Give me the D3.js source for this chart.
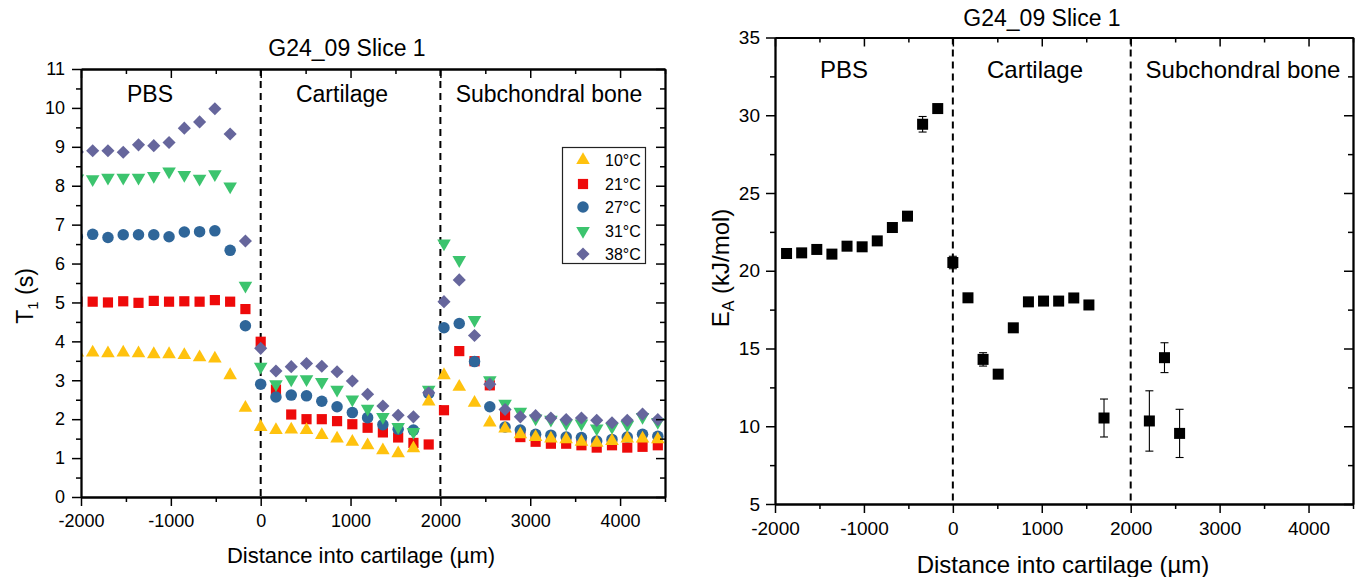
<!DOCTYPE html>
<html><head><meta charset="utf-8">
<script src="https://cdn.jsdelivr.net/npm/d3@7"></script>
<style>
body{margin:0;background:#fff}
svg text{font-family:"Liberation Sans",Arial,Helvetica,sans-serif;fill:#000}
</style>
</head><body>
<svg id="c" width="1360" height="577"></svg>
<script>
// ---------- data ----------
const distance = [-2040,-1870,-1700,-1530,-1360,-1190,-1020,-850,-680,-510,-340,-170,
  0,170,340,510,680,850,1020,1190,1360,1530,1700,1870,
  2040,2210,2380,2550,2720,2890,3060,3230,3400,3570,3740,3910,4080,4250,4420];
const t1_10C = [3.71,3.71,3.69,3.71,3.69,3.67,3.67,3.65,3.59,3.56,3.13,2.29,
  1.80,1.72,1.73,1.72,1.59,1.50,1.42,1.33,1.20,1.12,1.25,2.45,
  3.13,2.83,2.42,1.91,1.76,1.61,1.54,1.50,1.48,1.42,1.39,1.44,1.50,1.50,1.48];
const t1_21C = [5.02,5.02,5.00,5.03,4.99,5.04,5.02,5.03,5.02,5.06,5.02,4.83,
  3.99,2.76,2.12,2.00,2.00,1.95,1.87,1.78,1.66,1.53,1.39,1.35,
  2.23,3.75,3.49,2.87,2.10,1.54,1.42,1.37,1.37,1.33,1.27,1.33,1.27,1.29,1.33];
const t1_27C = [6.69,6.75,6.67,6.74,6.74,6.74,6.69,6.81,6.82,6.84,6.34,4.40,
  2.90,2.57,2.62,2.60,2.46,2.32,2.17,2.04,1.86,1.74,1.72,2.66,
  4.35,4.46,3.48,2.32,1.80,1.72,1.61,1.59,1.54,1.53,1.44,1.48,1.54,1.61,1.56];
const t1_31C = [8.19,8.17,8.21,8.21,8.21,8.25,8.37,8.28,8.18,8.30,7.98,5.43,
  3.35,2.90,3.02,3.03,2.96,2.76,2.51,2.27,2.06,1.80,1.67,2.76,
  6.52,6.09,4.55,3.00,2.40,2.19,2.02,1.99,1.89,1.89,1.76,1.80,1.85,2.06,1.93];
const t1_38C = [8.87,8.90,8.90,8.86,9.05,9.03,9.11,9.48,9.64,9.98,9.33,6.58,
  3.82,3.24,3.35,3.43,3.36,3.22,2.98,2.64,2.34,2.10,2.06,2.68,
  5.02,5.58,4.15,2.90,2.25,2.06,2.09,2.03,1.99,2.03,1.97,1.91,1.97,2.13,1.99];

const seriesNames = ["10°C","21°C","27°C","31°C","38°C"];
const seriesColors = ["#FFC20E","#EE0A0A","#2F6699","#3CC46E","#66669C"];

const eaDistance = [-1870,-1700,-1530,-1360,-1190,-1020,-850,-680,-510,-340,-170,0,
  170,340,510,680,850,1020,1190,1360,1530,1700,2210,2380,2550];
const eaValue = [21.11,21.15,21.37,21.07,21.58,21.54,21.92,22.78,23.51,29.42,30.43,20.53,
  18.26,14.30,13.35,16.33,18.00,18.05,18.05,18.25,17.80,10.53,10.34,14.41,9.54];
const eaError = [0.1,0.1,0.1,0.1,0.1,0.1,0.1,0.1,0.1,0.5,0.15,0.4,
  0.1,0.43,0.1,0.1,0.1,0.1,0.1,0.1,0.1,1.22,1.94,0.96,1.55];

const regionLabels = ["PBS","Cartilage","Subchondral bone"];
const boundaries = [0, 2000];
const xTicks = [-2000,-1000,0,1000,2000,3000,4000];
const xMinor = [-1500,-500,500,1500,2500,3500,4500];
const t1Ticks = [0,1,2,3,4,5,6,7,8,9,10,11];
const t1Minor = [0.5,1.5,2.5,3.5,4.5,5.5,6.5,7.5,8.5,9.5,10.5];
const eaTicks = [5,10,15,20,25,30,35];
const eaMinor = [7.5,12.5,17.5,22.5,27.5,32.5];
const titleText = "G24_09 Slice 1";
const xTitle = "Distance into cartilage (µm)";

// ---------- drawing ----------
const svg = d3.select("#c");

function drawFrame(g, x, y, xt, xm, yt, ym, fs, padX, padY) {
  const [x0, x1] = x.range();
  const [y0, y1] = y.range();
  const fmt = d => String(d);
  const style = sel => {
    sel.select(".domain").attr("stroke", "#000").attr("stroke-width", 1.8);
    sel.selectAll(".tick line").attr("stroke", "#000").attr("stroke-width", 1.5);
    sel.selectAll(".tick text").attr("font-size", fs).attr("fill", "#000")
      .attr("font-family", '"Liberation Sans",Arial,sans-serif');
  };
  g.append("g").attr("transform", `translate(0,${y0})`)
    .call(d3.axisBottom(x).tickValues(xt).tickSize(9).tickSizeOuter(0).tickPadding(padX).tickFormat(fmt)).call(style);
  g.append("g").attr("transform", `translate(0,${y0})`)
    .call(d3.axisBottom(x).tickValues(xm).tickSize(5).tickSizeOuter(0).tickFormat("")).call(style);
  g.append("g").attr("transform", `translate(0,${y1})`)
    .call(d3.axisTop(x).tickValues(xt).tickSize(-9).tickSizeOuter(0).tickFormat("")).call(style);
  g.append("g").attr("transform", `translate(0,${y1})`)
    .call(d3.axisTop(x).tickValues(xm).tickSize(-5).tickSizeOuter(0).tickFormat("")).call(style);
  g.append("g").attr("transform", `translate(${x0},0)`)
    .call(d3.axisLeft(y).tickValues(yt).tickSize(9).tickSizeOuter(0).tickPadding(padY).tickFormat(fmt)).call(style);
  g.append("g").attr("transform", `translate(${x0},0)`)
    .call(d3.axisLeft(y).tickValues(ym).tickSize(5).tickSizeOuter(0).tickFormat("")).call(style);
  g.append("g").attr("transform", `translate(${x1},0)`)
    .call(d3.axisRight(y).tickValues(yt).tickSize(-9).tickSizeOuter(0).tickFormat("")).call(style);
  g.append("g").attr("transform", `translate(${x1},0)`)
    .call(d3.axisRight(y).tickValues(ym).tickSize(-5).tickSizeOuter(0).tickFormat("")).call(style);
}

function drawBoundaries(g, x, y) {
  const [y0, y1] = y.range();
  g.selectAll(".bnd").data(boundaries).join("line")
    .attr("x1", d => x(d)).attr("x2", d => x(d))
    .attr("y1", y1).attr("y2", y0)
    .attr("stroke", "#000").attr("stroke-width", 2).attr("stroke-dasharray", "7,5");
}

const markerDefs = [
  {type: d3.symbolTriangle, size: 80, rot: 0},
  {type: d3.symbolSquare, size: 104, rot: 0},
  {type: d3.symbolCircle, size: 104, rot: 0},
  {type: d3.symbolTriangle, size: 80, rot: 180},
  {type: d3.symbolSquare, size: 86, rot: 45}
];

// ===== Left panel =====
const xL = d3.scaleLinear().domain([-2000, 4500]).range([81, 665]);
const yL = d3.scaleLinear().domain([0, 11]).range([497, 69]);
const gL = svg.append("g");

svg.append("defs").append("clipPath").attr("id", "clipL")
  .append("rect").attr("x", 81).attr("y", 69).attr("width", 665 - 81).attr("height", 497 - 69);

drawBoundaries(gL, xL, yL);

const t1Series = [t1_10C, t1_21C, t1_27C, t1_31C, t1_38C];
const drawOrder = [1, 2, 3, 4, 0];
const plotL = gL.append("g").attr("clip-path", "url(#clipL)");
drawOrder.forEach(si => {
  const m = markerDefs[si];
  const sym = d3.symbol().type(m.type).size(m.size);
  plotL.append("g").selectAll("path").data(distance.map((d, i) => [d, t1Series[si][i]]))
    .join("path")
    .attr("d", sym)
    .attr("transform", d => `translate(${xL(d[0])},${yL(d[1])}) rotate(${m.rot})`)
    .attr("fill", seriesColors[si]);
});

drawFrame(gL, xL, yL, xTicks, xMinor, t1Ticks, t1Minor, 18, 8, 7);

gL.append("text").attr("x", 347).attr("y", 56).attr("text-anchor", "middle")
  .attr("font-size", 23).text(titleText);
const regionXL = [150, 342, 549];
gL.selectAll(".rl").data(regionLabels).join("text")
  .attr("x", (d, i) => regionXL[i]).attr("y", 102).attr("text-anchor", "middle")
  .attr("font-size", 23).text(d => d);
gL.append("text").attr("x", 361).attr("y", 563).attr("text-anchor", "middle")
  .attr("font-size", 22).text(xTitle);
const ylab = gL.append("text").attr("transform", "translate(33,296) rotate(-90)")
  .attr("text-anchor", "middle").attr("font-size", 23);
ylab.append("tspan").text("T");
ylab.append("tspan").attr("font-size", 15).attr("dy", 5).text("1");
ylab.append("tspan").attr("dy", -5).text(" (s)");

// legend
const leg = gL.append("g");
leg.append("rect").attr("x", 562.5).attr("y", 147.5).attr("width", 83).attr("height", 116)
  .attr("fill", "#fff").attr("stroke", "#222").attr("stroke-width", 1.2);
const legY = [160, 184, 207, 231, 254];
seriesNames.forEach((name, si) => {
  const m = markerDefs[si];
  leg.append("path").attr("d", d3.symbol().type(m.type).size(m.size))
    .attr("transform", `translate(583,${legY[si]}) rotate(${m.rot})`)
    .attr("fill", seriesColors[si]);
  leg.append("text").attr("x", 605).attr("y", legY[si] + 6).attr("font-size", 16).text(name);
});

// ===== Right panel =====
const xR = d3.scaleLinear().domain([-2000, 4500]).range([775, 1353]);
const yR = d3.scaleLinear().domain([5, 35]).range([504, 37.5]);
const gR = svg.append("g");
drawBoundaries(gR, xR, yR);

const eaData = eaDistance.map((d, i) => ({x: d, v: eaValue[i], e: eaError[i]}));
const eb = gR.append("g").attr("stroke", "#000").attr("stroke-width", 1.1);
eaData.forEach(d => {
  const cx = xR(d.x), ya = yR(d.v + d.e), yb = yR(d.v - d.e);
  eb.append("line").attr("x1", cx).attr("x2", cx).attr("y1", ya).attr("y2", yb);
  eb.append("line").attr("x1", cx - 4).attr("x2", cx + 4).attr("y1", ya).attr("y2", ya);
  eb.append("line").attr("x1", cx - 4).attr("x2", cx + 4).attr("y1", yb).attr("y2", yb);
});
gR.append("g").selectAll("rect").data(eaData).join("rect")
  .attr("x", d => xR(d.x) - 5.5).attr("y", d => yR(d.v) - 5.5)
  .attr("width", 11).attr("height", 11).attr("fill", "#000");

drawFrame(gR, xR, yR, xTicks, xMinor, eaTicks, eaMinor, 19, 9, 6);

gR.append("text").attr("x", 1042).attr("y", 26).attr("text-anchor", "middle")
  .attr("font-size", 23).text(titleText);
const regionXR = [844, 1035, 1243];
gR.selectAll(".rl").data(regionLabels).join("text")
  .attr("x", (d, i) => regionXR[i]).attr("y", 78).attr("text-anchor", "middle")
  .attr("font-size", 24).text(d => d);
gR.append("text").attr("x", 1063).attr("y", 573).attr("text-anchor", "middle")
  .attr("font-size", 24).text(xTitle);
const ylabR = gR.append("text").attr("transform", "translate(729,268) rotate(-90)")
  .attr("text-anchor", "middle").attr("font-size", 24);
ylabR.append("tspan").text("E");
ylabR.append("tspan").attr("font-size", 16).attr("dy", 5).text("A");
ylabR.append("tspan").attr("dy", -5).text(" (kJ/mol)");
</script>
</body></html>
